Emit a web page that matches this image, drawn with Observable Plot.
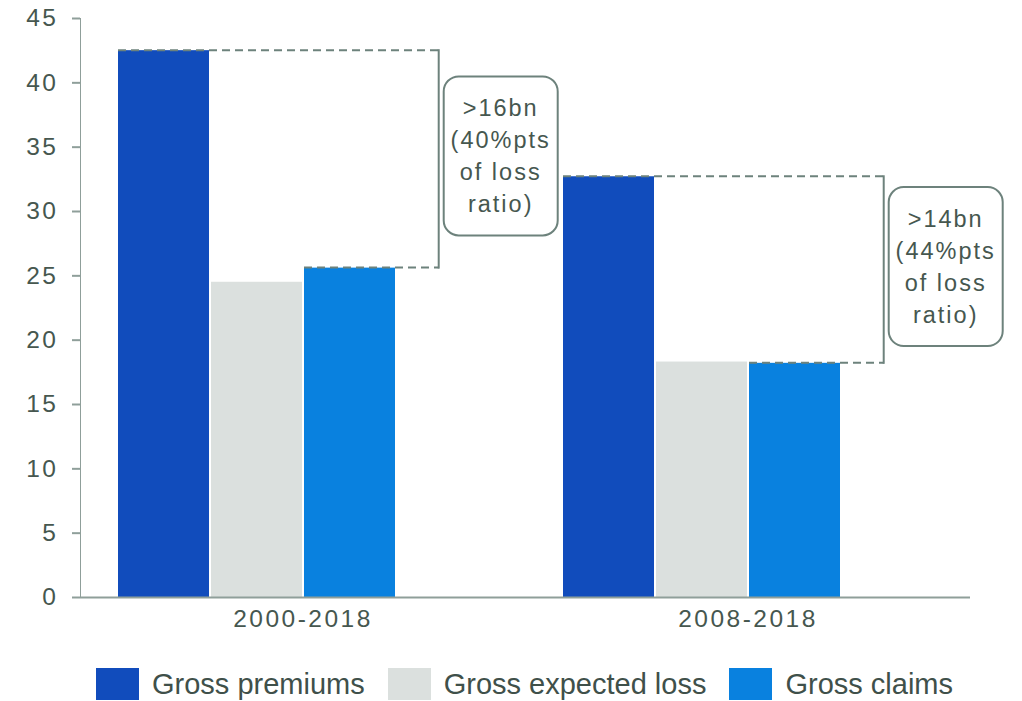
<!DOCTYPE html>
<html>
<head>
<meta charset="utf-8">
<script src="https://cdn.jsdelivr.net/npm/d3@7"></script>
<script src="https://cdn.jsdelivr.net/npm/@observablehq/plot@0.6"></script>
<style>
  body { margin: 0; background: #fff; font-family: "Liberation Sans", Arial, sans-serif; }
  #chart svg text { fill: #46574f; }
  #chart svg g[aria-label="y-axis tick"] { stroke-width: 2px; }
  .legend { display: flex; align-items: center; margin: 23px 0 0 96px; height: 32px; }
  .legend .item { display: flex; align-items: center; margin-right: 23px; }
  .legend .sw { width: 43px; height: 32px; margin-right: 13px; }
  .legend span { font-size: 29px; color: #3f504a; white-space: nowrap; }
</style>
</head>
<body>
<div id="chart"></div>
<div class="legend" id="legend"></div>
<script>
// Periods, series and values (USD bn)
const periods = ["2000-2018", "2008-2018"];
const series = ["Gross premiums", "Gross expected loss", "Gross claims"];
const grossPremiums = [42.5, 32.7];
const grossExpectedLoss = [24.5, 18.3];
const grossClaims = [25.6, 18.2];
const seriesColors = ["#114cbc", "#dbe0de", "#0981df"];
const yTicks = [0, 5, 10, 15, 20, 25, 30, 35, 40, 45];
const gapNotes = [
  [">16bn", "(40%pts", "of loss", "ratio)"],
  [">14bn", "(44%pts", "of loss", "ratio)"]
];

const valuesBySeries = [grossPremiums, grossExpectedLoss, grossClaims];
const rows = periods.flatMap((period, i) =>
  series.map((s, j) => ({period, series: s, value: valuesBySeries[j][i]}))
);

const axisColor = "#8f9f9a";
const noteColor = "#6d827c";
const font = '"Liberation Sans", Arial, sans-serif';

const chart = Plot.plot({
  width: 1022,
  height: 645,
  marginLeft: 80,
  marginRight: 52,
  marginTop: 18,
  marginBottom: 48,
  style: {fontFamily: font, fontSize: "24.5px", color: axisColor, letterSpacing: "2.5px", overflow: "visible", background: "#fff"},
  fx: {domain: periods, padding: 0, label: null, axis: "bottom", tickSize: 0, tickPadding: 12},
  x: {domain: series, axis: null, paddingInner: 0.0215, paddingOuter: 0.903, align: 0.226},
  y: {domain: [0, 45], ticks: yTicks, tickSize: 8, tickPadding: 14, label: null, line: true},
  color: {domain: series, range: seriesColors},
  marks: [
    Plot.barY(rows, {fx: "period", x: "series", y: "value", fill: "series"}),
    Plot.ruleY([0], {stroke: axisColor, strokeWidth: 2})
  ]
});
document.getElementById("chart").append(chart);

// Gap brackets between premiums and claims, with their callouts
const fx = chart.scale("fx");
const x = chart.scale("x");
const y = chart.scale("y");
const notes = d3.select(chart).append("g").attr("aria-label", "gap notes");

periods.forEach((p, i) => {
  const ox = fx.apply(p) - x.range[0];
  const xTop = ox + x.apply(series[0]);
  const xBottom = ox + x.apply(series[2]);
  const xEdge = xBottom + x.bandwidth + 0.47 * x.step;
  const yTop = y.apply(grossPremiums[i]);
  const yBottom = y.apply(grossClaims[i]);

  notes.append("path")
    .attr("d", `M${xTop},${yTop}H${xEdge}M${xBottom},${yBottom}H${xEdge}`)
    .attr("fill", "none")
    .attr("stroke", noteColor)
    .attr("stroke-width", 2)
    .attr("stroke-dasharray", "8 5");
  notes.append("line")
    .attr("x1", xEdge).attr("x2", xEdge)
    .attr("y1", yTop - 1).attr("y2", yBottom + 1)
    .attr("stroke", noteColor)
    .attr("stroke-width", 2);

  const boxW = 114, boxH = 159;
  const bx = xEdge + 5;
  const cy = (yTop + yBottom) / 2 - 3;
  notes.append("rect")
    .attr("x", bx).attr("y", cy - boxH / 2)
    .attr("width", boxW).attr("height", boxH)
    .attr("rx", 15).attr("ry", 15)
    .attr("fill", "#fff")
    .attr("stroke", noteColor)
    .attr("stroke-width", 2);
  const t = notes.append("text")
    .attr("text-anchor", "middle")
    .attr("font-family", font)
    .attr("font-size", 23.5)
    .attr("letter-spacing", "2px");
  gapNotes[i].forEach((line, k) => {
    t.append("tspan")
      .attr("x", bx + boxW / 2)
      .attr("y", cy + (k - 1.5) * 32)
      .attr("dominant-baseline", "central")
      .text(line);
  });
});

// Legend
const legend = d3.select("#legend");
series.forEach((s, j) => {
  const item = legend.append("div").attr("class", "item");
  item.append("div").attr("class", "sw").style("background", seriesColors[j]);
  item.append("span").text(s);
});
</script>
</body>
</html>
